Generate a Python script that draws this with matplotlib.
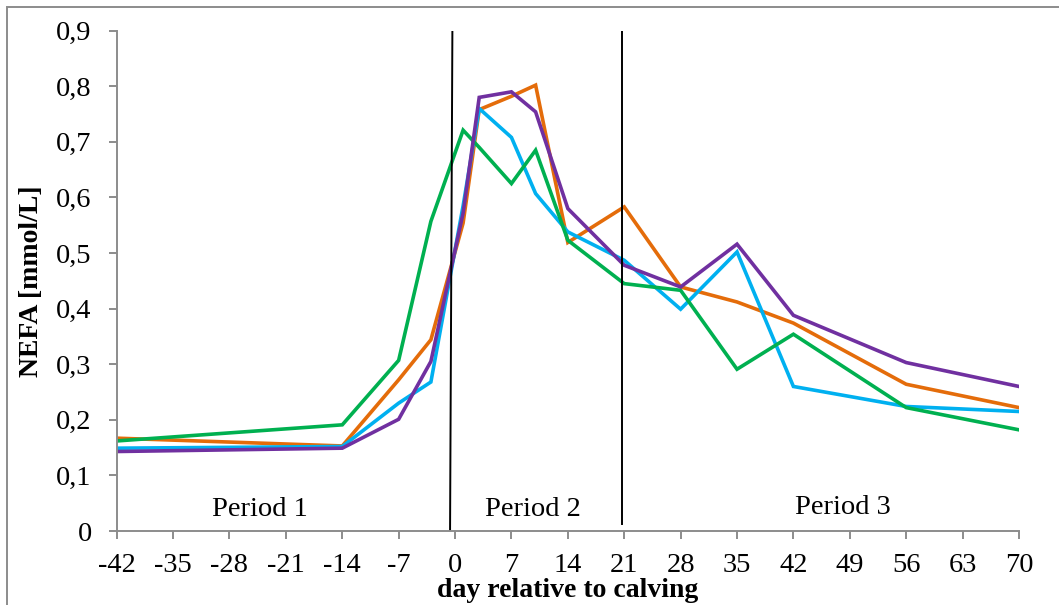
import matplotlib
matplotlib.use("Agg")
import matplotlib.pyplot as plt
from matplotlib.ticker import FuncFormatter, MultipleLocator
from matplotlib.patches import Rectangle

plt.rcParams['font.family'] = ['Liberation Serif', 'DejaVu Serif']

# Sampling days relative to calving
days = [-42, -14, -7, -3, 1, 3, 7, 10, 14, 21, 28, 35, 42, 56, 70]

# NEFA concentrations (mmol/L) per group
nefa_orange = [0.167, 0.153, 0.272, 0.344, 0.554, 0.758, 0.782, 0.802, 0.519, 0.583, 0.439, 0.412, 0.374, 0.264, 0.222]
nefa_cyan   = [0.149, 0.152, 0.230, 0.268, 0.585, 0.760, 0.708, 0.607, 0.538, 0.487, 0.399, 0.502, 0.260, 0.224, 0.215]
nefa_green  = [0.162, 0.191, 0.307, 0.557, 0.721, 0.690, 0.625, 0.685, 0.523, 0.445, 0.433, 0.291, 0.354, 0.222, 0.182]
nefa_purple = [0.143, 0.149, 0.201, 0.305, 0.572, 0.780, 0.790, 0.754, 0.580, 0.478, 0.439, 0.516, 0.388, 0.303, 0.260]

series = [
    (nefa_orange, '#E46C0A'),
    (nefa_cyan, '#00B0F0'),
    (nefa_green, '#00B050'),
    (nefa_purple, '#7030A0'),
]

period_labels = ['Period 1', 'Period 2', 'Period 3']
period_x = [-24.2, 9.7, 48.1]
period_y = [0.027, 0.027, 0.031]

fig = plt.figure(figsize=(10.59, 6.05), dpi=100)
ax = fig.add_axes([0.1102, 0.1223, 0.852, 0.8270])

for vals, col in series:
    ax.plot(days, vals, color=col, lw=2.6, solid_joinstyle='miter')

# Period boundaries
ax.plot([-0.33, -0.62], [0.902, 0.0], color='black', lw=1.4)
ax.plot([20.7, 20.7], [0.902, 0.013], color='black', lw=1.4)

for lab, x, y in zip(period_labels, period_x, period_y):
    ax.text(x, y, lab, ha='center', va='baseline', fontsize=20.5)

ax.set_xlim(-42, 70)
ax.set_ylim(0, 0.9)
ax.xaxis.set_major_locator(MultipleLocator(7))
ax.yaxis.set_major_locator(MultipleLocator(0.1))
ax.yaxis.set_major_formatter(FuncFormatter(lambda v, p: ('%.1f' % v).replace('.', ',') if v > 1e-9 else '0'))
ax.xaxis.set_major_formatter(FuncFormatter(lambda v, p: '%d' % round(v)))

for s in ['top', 'right']:
    ax.spines[s].set_visible(False)
for s in ['left', 'bottom']:
    ax.spines[s].set_color('#8C8C8C')
    ax.spines[s].set_linewidth(1.4)

ax.tick_params(axis='both', direction='out', length=6, width=1.4, color='#8C8C8C',
               labelsize=20.5, labelcolor='black')
ax.tick_params(axis='y', pad=12)
ax.tick_params(axis='x', pad=10)

ax.set_ylabel('NEFA [mmol/L]', fontsize=20, fontweight='bold', labelpad=9)
ax.set_xlabel('day relative to calving', fontsize=20, fontweight='bold', labelpad=0)

# Chart frame
fig.patches.append(Rectangle((7 / 1059, -0.1), 1.2, 1 - 7 / 605 + 0.1,
                             transform=fig.transFigure, fill=False,
                             edgecolor='#8C8C8C', lw=1.4))

fig.savefig('out.png', dpi=100)
